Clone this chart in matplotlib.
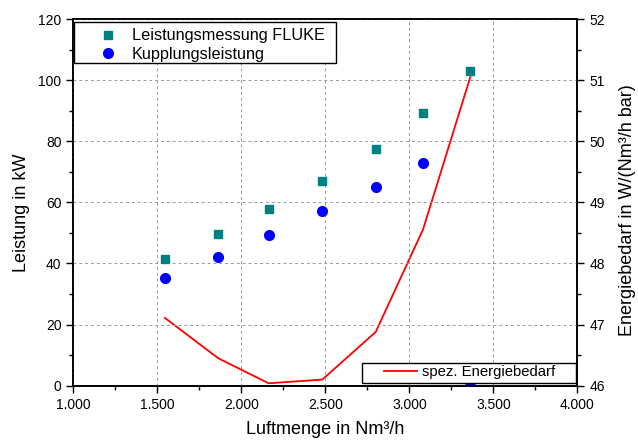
import matplotlib
import numpy as np
import matplotlib.pyplot as plt
from matplotlib.patches import Rectangle

matplotlib.use('Agg')
plt.rcParams['font.family'] = ['Liberation Sans', 'DejaVu Sans']

# Daten
luftmenge = [1545, 1862, 2162, 2482, 2800, 3082, 3363]
fluke = [41.6, 49.5, 57.8, 67.1, 77.5, 89.2, 103.0]
kupplung = [35.3, 42.0, 49.3, 57.1, 65.1, 73.0, 0.0]
energie = [47.11, 46.45, 46.04, 46.10, 46.88, 48.56, 51.05]

x_ticks = [1000, 1500, 2000, 2500, 3000, 3500, 4000]
x_labels = ['1.000', '1.500', '2.000', '2.500', '3.000', '3.500', '4.000']

fig = plt.figure(figsize=(6.38, 4.41), dpi=100)
ax = fig.add_axes([0.1149, 0.1254, 0.79, 0.8315])
ax2 = ax.twinx()

# Punkte sollen über der roten Linie liegen
ax.set_zorder(ax2.get_zorder() + 1)
ax.patch.set_visible(False)

s1, = ax.plot(luftmenge, fluke, 's', color='#008080', ms=6, ls='none',
              label='Leistungsmessung FLUKE')
s2, = ax.plot(luftmenge, kupplung, 'o', color='#0000FF', ms=7, ls='none',
              label='Kupplungsleistung')
l3, = ax2.plot(luftmenge, energie, color='#FF0000', lw=1.3, label='spez. Energiebedarf')

ax.set_xlim(1000, 4000)
ax.set_ylim(0, 120)
ax2.set_ylim(46, 52)

ax.set_xticks(x_ticks)
ax.set_xticklabels(x_labels)
ax.set_xticks(np.arange(1250, 4000, 500), minor=True)
ax.set_yticks(np.arange(0, 121, 20))
ax.set_yticks(np.arange(10, 120, 20), minor=True)
ax2.set_yticks(np.arange(46, 53, 1))
ax2.set_yticks(np.arange(46.5, 52, 1), minor=True)

for a in (ax, ax2):
    a.tick_params(which='major', length=5, width=1, labelsize=10, direction='out')
    a.tick_params(which='minor', length=3, width=1, direction='out')
    for sp in a.spines.values():
        sp.set_linewidth(1.2)

ax.grid(True, which='major', ls=(0, (3, 3)), color='#999999', lw=0.7)

ax.set_xlabel('Luftmenge in Nm³/h', fontsize=13, labelpad=7)
ax.set_ylabel('Leistung in kW', fontsize=13, labelpad=6)
ax2.set_ylabel('Energiebedarf in W/(Nm³/h bar)', fontsize=13, labelpad=10)
ax.yaxis.label.set_y(0.472)
ax2.yaxis.label.set_y(0.48)

# Legendenrahmen (eckig, weiß)
ax.add_patch(Rectangle((0.0014, 0.879), 0.5196, 0.1136, transform=ax.transAxes,
                       facecolor='white', edgecolor='black', lw=1, zorder=4.5, clip_on=False))
ax.add_patch(Rectangle((0.573, 0.0065), 0.4239, 0.0562, transform=ax.transAxes,
                       facecolor='white', edgecolor='black', lw=1, zorder=4.5, clip_on=False))

leg1 = ax.legend(handles=[s1, s2], loc='center left', bbox_to_anchor=(0.0522, 0.9288),
                 fontsize=11.7, frameon=False, borderpad=0, borderaxespad=0,
                 handlelength=1.0, handletextpad=0.975, labelspacing=0.2)
ax.add_artist(leg1)
leg2 = ax.legend(handles=[l3], loc='center left', bbox_to_anchor=(0.617, 0.0365),
                 fontsize=10.7, frameon=False, borderpad=0, borderaxespad=0,
                 handlelength=2.18, handletextpad=0.34)

fig.savefig('out.png', dpi=100)
